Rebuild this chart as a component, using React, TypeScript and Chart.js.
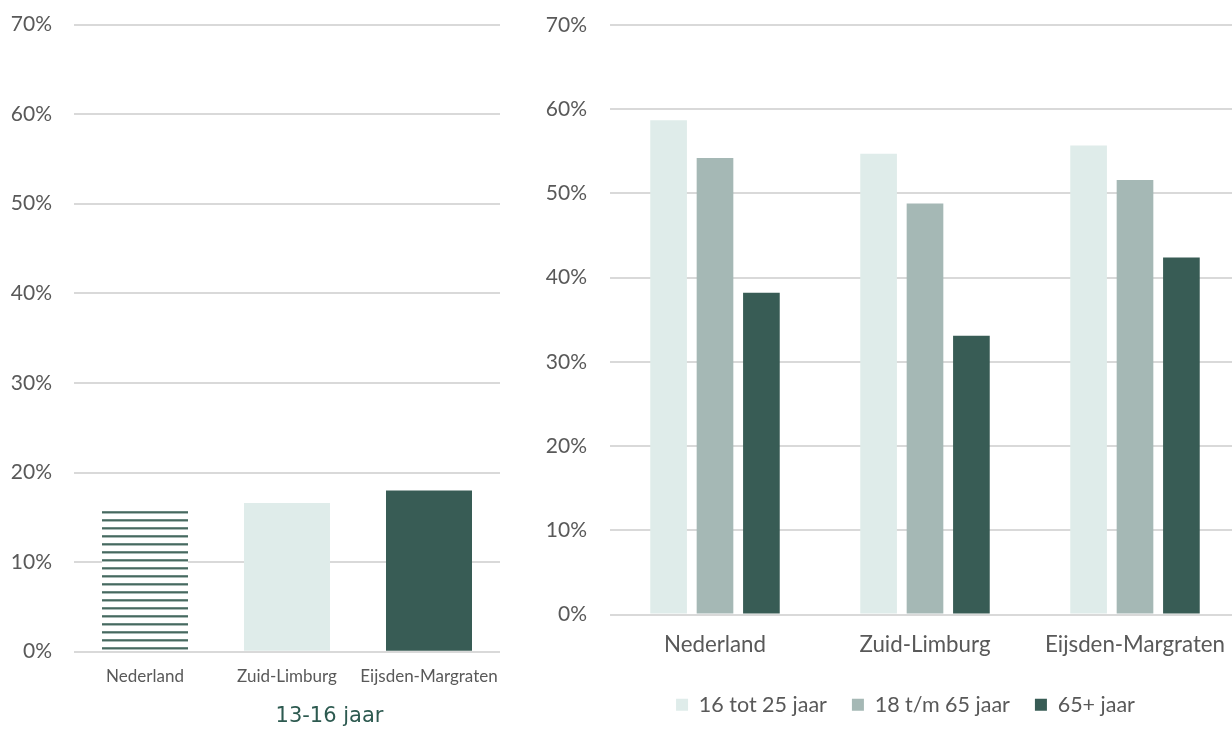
import React, { useEffect, useRef } from 'react';
import { Chart, registerables } from 'chart.js';

Chart.register(...registerables);

// ---- data ----
const leftCategories = ['Nederland', 'Zuid-Limburg', 'Eijsden-Margraten'];
const leftValues = [15.7, 16.6, 18.0];
const leftTitle = '13-16 jaar';

const rightCategories = ['Nederland', 'Zuid-Limburg', 'Eijsden-Margraten'];
const seriesLabels = ['16 tot 25 jaar', '18 t/m 65 jaar', '65+ jaar'];
const series16to25 = [58.7, 54.7, 55.7];
const series18to65 = [54.2, 48.8, 51.6];
const series65plus = [38.2, 33.1, 42.4];

const yMin = 0;
const yMax = 70;
const yStep = 10;

// ---- styles ----
const LIGHT = '#dfecea';
const MID = '#a5b8b5';
const DARK = '#385c55';
const TEXT = '#595959';
const GRID = '#d9d9d9';
const TITLE = '#2d5a50';

function makeStripePattern(): CanvasPattern | string {
  const pc = document.createElement('canvas');
  pc.width = 8;
  pc.height = 8;
  const c = pc.getContext('2d');
  if (!c) return DARK;
  c.fillStyle = '#ffffff';
  c.fillRect(0, 0, 8, 8);
  c.fillStyle = '#6a8881';
  c.fillRect(0, 7, 8, 1);
  c.fillStyle = '#47695f';
  c.fillRect(0, 0, 8, 1);
  c.fillStyle = '#a9bbb7';
  c.fillRect(0, 1, 8, 1);
  const p = c.createPattern(pc, 'repeat');
  return p || DARK;
}

const pct = (v: any) => `${v}%`;

export default function App() {
  const leftRef = useRef<HTMLCanvasElement | null>(null);
  const rightRef = useRef<HTMLCanvasElement | null>(null);

  useEffect(() => {
    if (!leftRef.current || !rightRef.current) return;
    const pattern = makeStripePattern();

    const left = new Chart(leftRef.current, {
      type: 'bar',
      data: {
        labels: leftCategories,
        datasets: [
          {
            data: leftValues,
            backgroundColor: [pattern as any, LIGHT, DARK],
            borderWidth: 0,
            categoryPercentage: 0.8,
            barPercentage: 0.757,
          },
        ],
      },
      options: {
        responsive: false,
        animation: false,
        layout: { padding: { top: 24.5, left: 0, right: 0, bottom: 0 } },
        plugins: {
          legend: { display: false },
          tooltip: { enabled: false },
          title: {
            display: true,
            text: leftTitle,
            position: 'bottom',
            color: TITLE,
            font: { family: 'DejaVu Sans', size: 21, weight: 'normal' },
            padding: { top: 0, bottom: 1.4 },
          },
        },
        scales: {
          x: {
            grid: { display: false },
            border: { display: false },
            ticks: {
              color: TEXT,
              font: { family: 'Lato', size: 17 },
              padding: 7,
              maxRotation: 0,
              autoSkip: false,
            },
            afterFit: (s: any) => {
              s.height = 52.7;
            },
          },
          y: {
            min: yMin,
            max: yMax,
            ticks: {
              stepSize: yStep,
              callback: pct,
              color: TEXT,
              font: { family: 'Lato', size: 21 },
              padding: 0,
            },
            grid: {
              color: GRID,
              lineWidth: 2,
              drawTicks: true,
              tickLength: 22,
              tickColor: 'rgba(0,0,0,0)',
            },
            border: { display: false },
            afterFit: (s: any) => {
              s.width = 74;
            },
          },
          yR: {
            position: 'right',
            min: yMin,
            max: yMax,
            ticks: { display: false },
            grid: { display: false, drawTicks: false },
            border: { display: false },
            afterFit: (s: any) => {
              s.width = 159;
            },
          },
        },
      } as any,
    });

    const right = new Chart(rightRef.current, {
      type: 'bar',
      data: {
        labels: rightCategories,
        datasets: [
          { label: seriesLabels[0], data: series16to25, backgroundColor: LIGHT, borderWidth: 0 },
          { label: seriesLabels[1], data: series18to65, backgroundColor: MID, borderWidth: 0 },
          { label: seriesLabels[2], data: series65plus, backgroundColor: DARK, borderWidth: 0 },
        ],
      },
      options: {
        responsive: false,
        animation: false,
        datasets: { bar: { categoryPercentage: 0.663, barPercentage: 0.79 } },
        layout: { padding: { top: 25, left: 0, right: 0, bottom: 5.5 } },
        plugins: {
          tooltip: { enabled: false },
          title: { display: false },
          legend: {
            display: true,
            position: 'bottom',
            labels: {
              boxWidth: 12,
              boxHeight: 12,
              padding: 25,
              color: TEXT,
              font: { family: 'Lato', size: 21.5 },
            },
          },
        },
        scales: {
          x: {
            grid: { display: false },
            border: { display: false },
            ticks: {
              color: TEXT,
              font: { family: 'Lato', size: 22.3 },
              padding: 9,
              maxRotation: 0,
              autoSkip: false,
            },
            afterFit: (s: any) => {
              s.height = 54.5;
            },
          },
          y: {
            min: yMin,
            max: yMax,
            ticks: {
              stepSize: yStep,
              callback: pct,
              color: TEXT,
              font: { family: 'Lato', size: 21 },
              padding: 0,
            },
            grid: {
              color: GRID,
              lineWidth: 2,
              drawTicks: true,
              tickLength: 23,
              tickColor: 'rgba(0,0,0,0)',
            },
            border: { display: false },
            afterFit: (s: any) => {
              s.width = 110;
            },
          },
          yR: {
            position: 'right',
            min: yMin,
            max: yMax,
            ticks: { display: false },
            grid: { display: false, drawTicks: false },
            border: { display: false },
            afterFit: (s: any) => {
              s.width = 71;
            },
          },
        },
      } as any,
    });

    return () => {
      left.destroy();
      right.destroy();
    };
  }, []);

  return (
    <div
      style={{
        position: 'fixed',
        left: 0,
        top: 0,
        width: 1232,
        height: 731,
        overflow: 'hidden',
        background: '#ffffff',
      }}
    >
      <canvas
        ref={rightRef}
        width={811}
        height={731}
        style={{ position: 'absolute', left: 500, top: 0, width: 811, height: 731 }}
      />
      <canvas
        ref={leftRef}
        width={659}
        height={731}
        style={{ position: 'absolute', left: 0, top: 0, width: 659, height: 731 }}
      />
    </div>
  );
}
